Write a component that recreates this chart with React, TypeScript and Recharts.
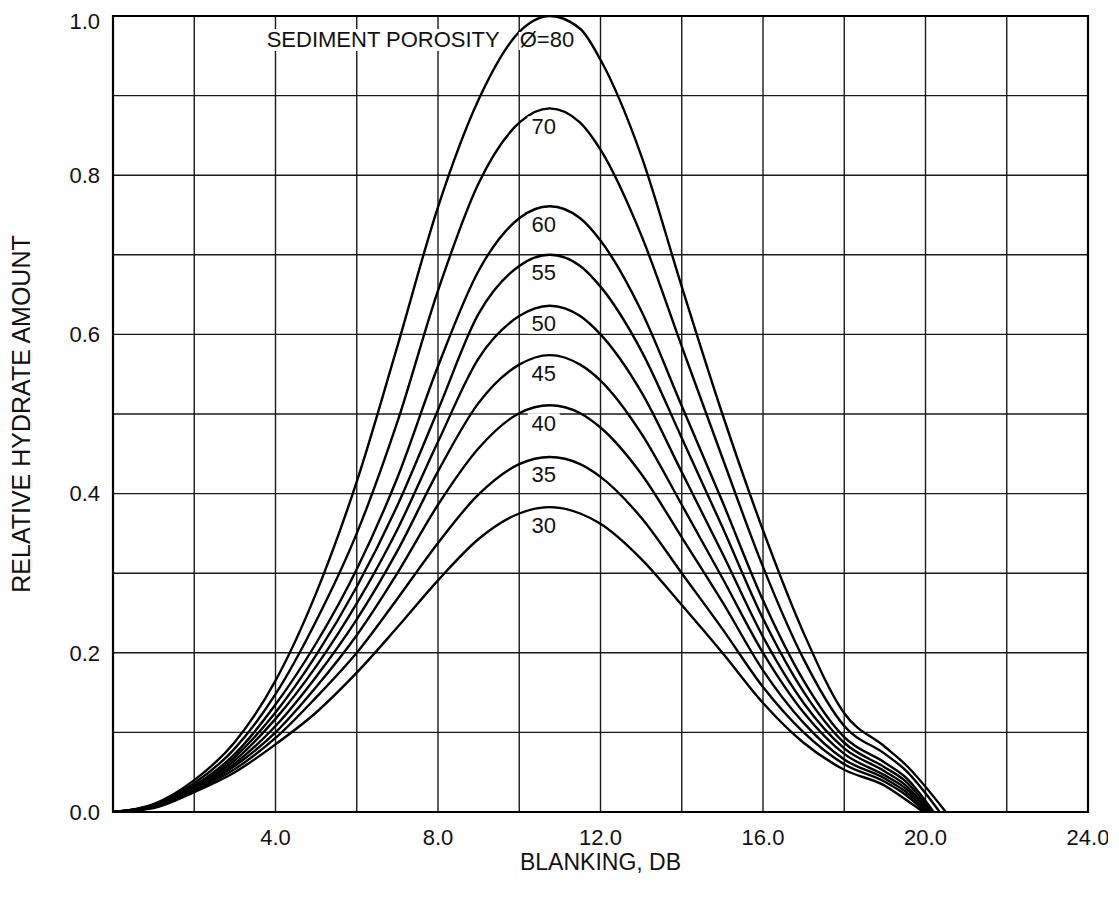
import React from "react";
import {
  LineChart,
  Line,
  XAxis,
  YAxis,
  CartesianGrid,
  ReferenceArea,
  ReferenceDot,
} from "recharts";

// Blanking (dB) sample points shared by every porosity curve
const BLANKING = [0, 1, 2, 3, 4, 5, 6, 7, 8, 9, 10, 10.75, 11.5, 12, 13, 14, 15, 16, 17, 18, 19, 19.5];

const POROSITY = [80, 70, 60, 55, 50, 45, 40, 35, 30];

// Relative hydrate amount for each porosity, one value per BLANKING point
const HYDRATE_80 = [0, 0.01, 0.04, 0.088, 0.165, 0.275, 0.415, 0.585, 0.76, 0.895, 0.98, 1.0, 0.984, 0.945, 0.825, 0.66, 0.5, 0.354, 0.225, 0.124, 0.082, 0.06];
const HYDRATE_70 = [0, 0.009, 0.036, 0.08, 0.148, 0.24, 0.35, 0.49, 0.655, 0.79, 0.866, 0.884, 0.866, 0.832, 0.725, 0.585, 0.445, 0.308, 0.192, 0.108, 0.073, 0.053];
const HYDRATE_60 = [0, 0.008, 0.033, 0.073, 0.135, 0.212, 0.305, 0.42, 0.56, 0.68, 0.746, 0.761, 0.746, 0.718, 0.63, 0.51, 0.39, 0.266, 0.165, 0.094, 0.062, 0.044];
const HYDRATE_55 = [0, 0.008, 0.031, 0.069, 0.125, 0.197, 0.283, 0.385, 0.505, 0.626, 0.686, 0.7, 0.686, 0.66, 0.58, 0.47, 0.358, 0.243, 0.151, 0.087, 0.056, 0.039];
const HYDRATE_50 = [0, 0.007, 0.03, 0.065, 0.117, 0.183, 0.262, 0.355, 0.465, 0.57, 0.623, 0.636, 0.623, 0.6, 0.528, 0.427, 0.325, 0.22, 0.137, 0.08, 0.051, 0.034];
const HYDRATE_45 = [0, 0.007, 0.029, 0.061, 0.108, 0.17, 0.242, 0.328, 0.428, 0.514, 0.562, 0.574, 0.562, 0.542, 0.476, 0.386, 0.294, 0.2, 0.125, 0.073, 0.046, 0.03];
const HYDRATE_40 = [0, 0.006, 0.028, 0.058, 0.1, 0.157, 0.222, 0.3, 0.386, 0.457, 0.501, 0.511, 0.501, 0.483, 0.425, 0.345, 0.264, 0.178, 0.112, 0.066, 0.042, 0.026];
const HYDRATE_35 = [0, 0.006, 0.027, 0.054, 0.093, 0.144, 0.2, 0.268, 0.338, 0.399, 0.437, 0.446, 0.437, 0.421, 0.37, 0.3, 0.23, 0.157, 0.1, 0.06, 0.038, 0.022];
const HYDRATE_30 = [0, 0.005, 0.025, 0.05, 0.085, 0.125, 0.175, 0.232, 0.291, 0.343, 0.375, 0.383, 0.375, 0.362, 0.318, 0.26, 0.2, 0.137, 0.087, 0.053, 0.033, 0.016];

// blanking where each curve comes back down to zero
const ZERO_AT = [20.5, 20.35, 20.2, 20.15, 20.1, 20.1, 20.05, 20.0, 19.95];

const X_TICKS = [0, 2, 4, 6, 8, 10, 12, 14, 16, 18, 20, 22, 24];
const Y_TICKS = [0, 0.1, 0.2, 0.3, 0.4, 0.5, 0.6, 0.7, 0.8, 0.9, 1.0];

const CURVES = [HYDRATE_80, HYDRATE_70, HYDRATE_60, HYDRATE_55, HYDRATE_50, HYDRATE_45, HYDRATE_40, HYDRATE_35, HYDRATE_30];

const series = CURVES.map((vals, i) => ({
  porosity: POROSITY[i],
  peakX: BLANKING[vals.indexOf(Math.max(...vals))],
  peak: Math.max(...vals),
  points: [...BLANKING.map((x, j) => ({ x, y: vals[j] })), { x: ZERO_AT[i], y: 0 }],
}));

const INK = "#111";
const FONT = '"Liberation Sans", Arial, Helvetica, sans-serif';

// number tag sitting just under a curve's peak, on a white patch
function PeakTag({ viewBox, text }: any) {
  const cx = viewBox.x + viewBox.width / 2 - 6;
  const cy = viewBox.y + viewBox.height / 2 + 18;
  const w = text.length * 12 + 8;
  return (
    <g>
      <rect x={cx - w / 2} y={cy - 10} width={w} height={20} fill="#fff" />
      <text x={cx} y={cy} textAnchor="middle" dominantBaseline="central" fontSize={22} fill={INK} fontFamily={FONT}>
        {text}
      </text>
    </g>
  );
}

function TopTag({ viewBox }: any) {
  const cx = viewBox.x + viewBox.width / 2;
  const base = viewBox.y + viewBox.height / 2 + 31;
  return (
    <g fontFamily={FONT} fontSize={22} fill={INK}>
      <rect x={cx - 290} y={base - 18} width={238} height={22} fill="#fff" />
      <text x={cx - 50} y={base} textAnchor="end">
        SEDIMENT POROSITY
      </text>
      <rect x={cx - 31} y={base - 15} width={60} height={18} fill="#fff" />
      <text x={cx - 30} y={base} textAnchor="start">
        Ø=80
      </text>
    </g>
  );
}

export default function App() {
  return (
    <LineChart
      width={1100}
      height={880}
      margin={{ top: 8, right: 20, bottom: 0, left: 0 }}
      style={{ fontFamily: FONT, background: "#fff" }}
    >
      <CartesianGrid stroke="#1a1a1a" strokeWidth={1.4} />
      <XAxis
        dataKey="x"
        type="number"
        domain={[0, 24]}
        ticks={X_TICKS}
        allowDataOverflow
        height={76}
        axisLine={false}
        tickLine={false}
        tickSize={0}
        tickMargin={17}
        tick={{ fill: INK, fontSize: 22 }}
        tickFormatter={(v: number) => (v > 0 && v % 4 === 0 ? v.toFixed(1) : "")}
        label={{ value: "BLANKING, DB", position: "insideBottom", offset: 18, fontSize: 23, fill: INK }}
      />
      <YAxis
        type="number"
        domain={[0, 1]}
        ticks={Y_TICKS}
        allowDataOverflow
        width={105}
        axisLine={false}
        tickLine={false}
        tickSize={0}
        tickMargin={13}
        tick={{ fill: INK, fontSize: 22 }}
        tickFormatter={(v: number) => (Math.round(v * 10) % 2 === 0 ? v.toFixed(1) : "")}
        label={{
          value: "RELATIVE HYDRATE AMOUNT",
          angle: -90,
          position: "insideLeft",
          offset: 13,
          fontSize: 25,
          fill: INK,
          style: { textAnchor: "middle" },
        }}
      />
      <ReferenceArea x1={0} x2={24} y1={0} y2={1} fill="none" stroke="#000" strokeWidth={2.2} />
      {series.map((s) => (
        <Line
          key={s.porosity}
          data={s.points}
          dataKey="y"
          type="monotone"
          stroke="#000"
          strokeWidth={2.4}
          dot={false}
          activeDot={false}
          isAnimationActive={false}
        />
      ))}
      {series.map((s) => (
        <ReferenceDot
          key={`tag-${s.porosity}`}
          x={s.peakX}
          y={s.peak}
          r={0}
          fill="none"
          stroke="none"
          label={{
            content: (props: any) =>
              s.porosity === 80 ? <TopTag {...props} /> : <PeakTag {...props} text={String(s.porosity)} />,
          }}
        />
      ))}
    </LineChart>
  );
}
